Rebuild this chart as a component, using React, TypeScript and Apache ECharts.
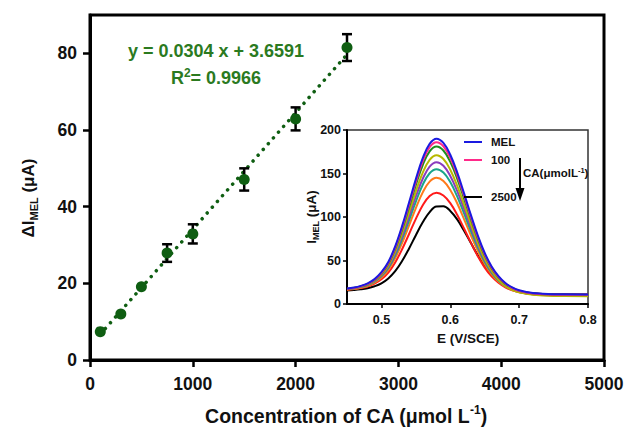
import React, { useEffect, useRef } from "react";
import * as echarts from "echarts";

// ---- Main calibration data ----
const concCA = [100, 300, 500, 750, 1000, 1500, 2000, 2500];
const deltaI = [7.4, 12.0, 19.1, 27.9, 32.9, 47.1, 62.9, 81.5];
const errI = [0, 0, 0, 2.3, 2.5, 2.9, 3.0, 3.5];
const fitX = [100, 2500];
const fitY = [6.7, 79.7];
const mainXTicks = [0, 1000, 2000, 3000, 4000, 5000];
const mainYTicks = [0, 20, 40, 60, 80];

// ---- Inset DPV data ----
const ePot = [0.45, 0.46, 0.47, 0.48, 0.49, 0.5, 0.51, 0.52, 0.53, 0.54, 0.55, 0.56, 0.57, 0.58, 0.59, 0.6, 0.61, 0.62, 0.63, 0.64, 0.65, 0.66, 0.67, 0.68, 0.69, 0.7, 0.72, 0.75, 0.8];
const curveBlack = [15.6, 16.1, 16.9, 18.2, 20.4, 23.8, 29.4, 37.7, 49.4, 63.6, 79.1, 93.9, 105.7, 112.1, 112.3, 107, 97.2, 84.2, 70, 56, 43.5, 33.4, 25.9, 20.7, 16.9, 14.6, 12.3, 11.2, 11];
const curveRed = [16.4, 17.1, 18.3, 20.2, 23.4, 28.4, 36.1, 47.8, 62.9, 80.2, 97.9, 113.5, 124.2, 128, 124.8, 115.9, 102.6, 86.8, 70.3, 54.9, 41.8, 31.7, 24.4, 19.2, 15.8, 13.7, 11.6, 10.6, 10.5];
const curveOrange = [16.5, 17.3, 18.7, 20.9, 24.6, 30.4, 39.2, 52.7, 70, 90, 110.3, 128.3, 140.6, 145, 141.4, 131.1, 115.8, 97.6, 78.7, 61, 45.9, 34.3, 25.9, 20, 16.1, 13.6, 11.2, 10.1, 10];
const curveTeal = [17.1, 17.9, 19.5, 21.8, 25.7, 32, 41.4, 55.9, 74.5, 95.9, 117.7, 137.1, 150.3, 155, 151.1, 140.1, 123.7, 104.1, 83.8, 64.8, 48.6, 36.1, 27.1, 20.7, 16.5, 13.9, 11.3, 10.1, 10];
const curvePurple = [17.2, 18.1, 19.7, 22.2, 26.3, 32.9, 42.9, 58.2, 77.9, 100.5, 123.6, 144, 158, 163, 158.9, 147.2, 130, 109.3, 87.9, 67.8, 50.7, 37.5, 28.1, 21.3, 16.9, 14.1, 11.4, 10.2, 10];
const curveYellow = [17.2, 18.2, 19.9, 22.5, 26.9, 33.8, 44.4, 60.5, 81.3, 105.1, 129.5, 151, 165.7, 171, 166.6, 154.3, 136, 114.1, 91.5, 70.2, 52.1, 38.2, 28.1, 21, 16.3, 13.4, 10.5, 9.2, 9];
const curveGreen = [17.3, 18.3, 20.1, 22.9, 27.6, 35, 46.2, 63.4, 85.5, 110.9, 136.8, 159.7, 175.4, 181, 176.4, 163.4, 144.2, 121.2, 97.3, 74.9, 55.9, 41.2, 30.6, 23.1, 18.2, 15.1, 12, 10.7, 10.5];
const curvePink = [17.4, 18.4, 20.3, 23.1, 27.9, 35.6, 47.1, 64.8, 87.6, 113.8, 140.4, 164.1, 180.2, 186, 181.3, 167.9, 148.1, 124.4, 99.8, 76.8, 57.2, 42.1, 31.2, 23.5, 18.4, 15.2, 12.1, 10.7, 10.5];
const curveBlue = [17.9, 18.9, 20.8, 23.8, 28.6, 36.5, 48.3, 66.3, 89.5, 116.3, 143.5, 167.6, 184.1, 190, 185.2, 171.6, 151.3, 127.2, 102.1, 78.7, 58.6, 43.2, 32.1, 24.2, 19.1, 15.8, 12.6, 11.2, 11];
const insetCurves = [curveBlack, curveRed, curveOrange, curveTeal, curvePurple, curveYellow, curveGreen, curvePink, curveBlue];
const insetColors = ["#000000", "#ff1a1a", "#ff7a1a", "#1aa58a", "#8a3cbf", "#b8b800", "#1e8c1e", "#ff2a8a", "#1a1ae0"];
const insetXTicks = [0.5, 0.6, 0.7, 0.8];
const insetYTicks = [0, 50, 100, 150, 200];

const FONT = "'Liberation Sans', Arial, Helvetica, sans-serif";
const GREEN_TXT = "#2b7a1f";
const GREEN_PT = "#0f5e12";

export default function App() {
  const ref = useRef<HTMLDivElement>(null);
  useEffect(() => {
    if (!ref.current) return;
    const chart = echarts.init(ref.current, null, { renderer: "svg" });
    const option: any = {
      animation: false,
      backgroundColor: "#ffffff",
      textStyle: { fontFamily: FONT },
      grid: [
        { left: 90, right: 23, top: 15, bottom: 70, show: true, borderColor: "#000", borderWidth: 3, backgroundColor: "transparent" },
        { left: 347, right: 39, top: 130, bottom: 126, show: true, borderColor: "#333", borderWidth: 1.5, backgroundColor: "#fff", z: 5 },
      ],
      xAxis: [
        {
          type: "value", gridIndex: 0, min: 0, max: 5000, interval: 1000,
          axisLine: { show: true, lineStyle: { color: "#000", width: 3 } },
          axisTick: { show: true, length: 7, lineStyle: { color: "#000", width: 2.5 }, customValues: mainXTicks },
          axisLabel: { customValues: mainXTicks, margin: 15, color: "#111", fontSize: 17.5, fontWeight: "bold", fontFamily: FONT, formatter: (v: number) => String(v) },
          splitLine: { show: false },
        },
        {
          type: "value", gridIndex: 1, min: 0.45, max: 0.8,
          axisLine: { show: true, lineStyle: { color: "#000", width: 2 } },
          axisTick: { show: true, length: 4, lineStyle: { color: "#000", width: 1.5 }, customValues: insetXTicks },
          axisLabel: { customValues: insetXTicks, margin: 9, color: "#111", fontSize: 12.5, fontWeight: "bold", fontFamily: FONT, formatter: (v: number) => v.toFixed(1) },
          splitLine: { show: false },
          z: 6,
        },
      ],
      yAxis: [
        {
          type: "value", gridIndex: 0, min: 0, max: 90,
          axisLine: { show: true, lineStyle: { color: "#000", width: 3 } },
          axisTick: { show: true, length: 7, lineStyle: { color: "#000", width: 2.5 }, customValues: mainYTicks },
          axisLabel: { customValues: mainYTicks, margin: 13, color: "#111", fontSize: 17.5, fontWeight: "bold", fontFamily: FONT, formatter: (v: number) => String(v) },
          splitLine: { show: false },
        },
        {
          type: "value", gridIndex: 1, min: 0, max: 200, interval: 50,
          axisLine: { show: true, lineStyle: { color: "#000", width: 2 } },
          axisTick: { show: true, length: 4, lineStyle: { color: "#000", width: 1.5 }, customValues: insetYTicks },
          axisLabel: { customValues: insetYTicks, margin: 6, color: "#111", fontSize: 12.5, fontWeight: "bold", fontFamily: FONT, formatter: (v: number) => String(v) },
          splitLine: { show: false },
          z: 6,
        },
      ],
      series: [
        {
          type: "line", xAxisIndex: 0, yAxisIndex: 0,
          data: fitX.map((x, i) => [x, fitY[i]]),
          showSymbol: false, symbol: "none",
          lineStyle: { color: GREEN_PT, width: 3.5, type: [0.1, 7.6], cap: "round" },
          z: 2,
        },
        {
          type: "custom", xAxisIndex: 0, yAxisIndex: 0,
          data: concCA.map((x, i) => [x, deltaI[i], errI[i]]),
          encode: { x: 0, y: 1 },
          z: 3,
          renderItem: (params: any, api: any) => {
            const x = api.value(0), y = api.value(1), e = api.value(2);
            if (!e) return { type: "group", children: [] };
            const top = api.coord([x, y + e]);
            const bot = api.coord([x, y - e]);
            const hw = 5;
            const st = { stroke: "#000", lineWidth: 2.5 };
            return {
              type: "group",
              children: [
                { type: "line", shape: { x1: top[0], y1: top[1], x2: bot[0], y2: bot[1] }, style: st },
                { type: "line", shape: { x1: top[0] - hw, y1: top[1], x2: top[0] + hw, y2: top[1] }, style: st },
                { type: "line", shape: { x1: bot[0] - hw, y1: bot[1], x2: bot[0] + hw, y2: bot[1] }, style: st },
              ],
            };
          },
        },
        {
          type: "scatter", xAxisIndex: 0, yAxisIndex: 0,
          data: concCA.map((x, i) => [x, deltaI[i]]),
          symbol: "circle", symbolSize: 11,
          itemStyle: { color: GREEN_PT, opacity: 1 },
          z: 4,
        },
        ...insetCurves.map((arr, k) => ({
          type: "line", xAxisIndex: 1, yAxisIndex: 1,
          data: ePot.map((e, i) => [e, arr[i]]),
          showSymbol: false, symbol: "none", smooth: 0.4,
          lineStyle: { color: insetColors[k], width: 2 },
          z: 7 + k * 0.01,
        })),
      ],
      graphic: [
        { type: "text", x: 216, y: 51, z: 20, style: { text: "y = 0.0304 x + 3.6591", fill: GREEN_TXT, fontSize: 18, fontWeight: "bold", fontFamily: FONT, align: "center", verticalAlign: "middle" } },
        {
          type: "text", x: 216, y: 78, z: 20,
          style: {
            text: "{a|R}{s|2}{a|= 0.9966}", align: "center", verticalAlign: "middle",
            rich: {
              a: { fill: GREEN_TXT, fontSize: 18, fontWeight: "bold", fontFamily: FONT, lineHeight: 22 },
              s: { fill: GREEN_TXT, fontSize: 12, fontWeight: "bold", fontFamily: FONT, lineHeight: 12, verticalAlign: "top" },
            },
          },
        },
        {
          type: "text", x: 346, y: 416, z: 20,
          style: {
            text: "{a|Concentration of CA (μmol L}{s|-1}{a|)}", align: "center", verticalAlign: "middle",
            rich: {
              a: { fill: "#111", fontSize: 19.5, fontWeight: "bold", fontFamily: FONT, lineHeight: 24 },
              s: { fill: "#111", fontSize: 12, fontWeight: "bold", fontFamily: FONT, lineHeight: 12, verticalAlign: "top" },
            },
          },
        },
        {
          type: "text", x: 28, y: 198, rotation: Math.PI / 2, z: 20,
          style: {
            text: "{a|ΔI}{s|MEL}{a| (μA)}", align: "center", verticalAlign: "middle",
            rich: {
              a: { fill: "#111", fontSize: 17, fontWeight: "bold", fontFamily: FONT, lineHeight: 22 },
              s: { fill: "#111", fontSize: 11, fontWeight: "bold", fontFamily: FONT, lineHeight: 12, verticalAlign: "bottom" },
            },
          },
        },
        {
          type: "text", x: 311, y: 217, rotation: Math.PI / 2, z: 20,
          style: {
            text: "{a|I}{s|MEL}{a| (μA)}", align: "center", verticalAlign: "middle",
            rich: {
              a: { fill: "#111", fontSize: 13.5, fontWeight: "bold", fontFamily: FONT, lineHeight: 18 },
              s: { fill: "#111", fontSize: 9, fontWeight: "bold", fontFamily: FONT, lineHeight: 10, verticalAlign: "bottom" },
            },
          },
        },
        { type: "text", x: 468, y: 338, z: 20, style: { text: "E (V/SCE)", fill: "#111", fontSize: 13.5, fontWeight: "bold", fontFamily: FONT, align: "center", verticalAlign: "middle" } },
        { type: "line", z: 20, shape: { x1: 464, y1: 142, x2: 482, y2: 142 }, style: { stroke: insetColors[8], lineWidth: 2 } },
        { type: "line", z: 20, shape: { x1: 464, y1: 160, x2: 482, y2: 160 }, style: { stroke: insetColors[7], lineWidth: 2 } },
        { type: "line", z: 20, shape: { x1: 464, y1: 197, x2: 482, y2: 197 }, style: { stroke: insetColors[0], lineWidth: 2 } },
        { type: "text", x: 491, y: 142, z: 20, style: { text: "MEL", fill: "#111", fontSize: 11.5, fontWeight: "bold", fontFamily: FONT, align: "left", verticalAlign: "middle" } },
        { type: "text", x: 491, y: 160, z: 20, style: { text: "100", fill: "#111", fontSize: 11.5, fontWeight: "bold", fontFamily: FONT, align: "left", verticalAlign: "middle" } },
        { type: "text", x: 491, y: 197, z: 20, style: { text: "2500", fill: "#111", fontSize: 11.5, fontWeight: "bold", fontFamily: FONT, align: "left", verticalAlign: "middle" } },
        { type: "line", z: 20, shape: { x1: 520, y1: 158, x2: 520, y2: 190 }, style: { stroke: "#000", lineWidth: 2 } },
        { type: "polygon", z: 20, shape: { points: [[515.5, 188], [524.5, 188], [520, 201]] }, style: { fill: "#000" } },
        {
          type: "text", x: 523, y: 173, z: 20,
          style: {
            text: "{a|CA(μmolL}{s|-1}{a|)}", align: "left", verticalAlign: "middle",
            rich: {
              a: { fill: "#111", fontSize: 11.5, fontWeight: "bold", fontFamily: FONT, lineHeight: 14 },
              s: { fill: "#111", fontSize: 7.5, fontWeight: "bold", fontFamily: FONT, lineHeight: 8, verticalAlign: "top" },
            },
          },
        },
      ],
    };
    chart.setOption(option);
    return () => chart.dispose();
  }, []);
  return <div ref={ref} style={{ position: "absolute", left: 0, top: 0, width: 627, height: 430 }} />;
}
